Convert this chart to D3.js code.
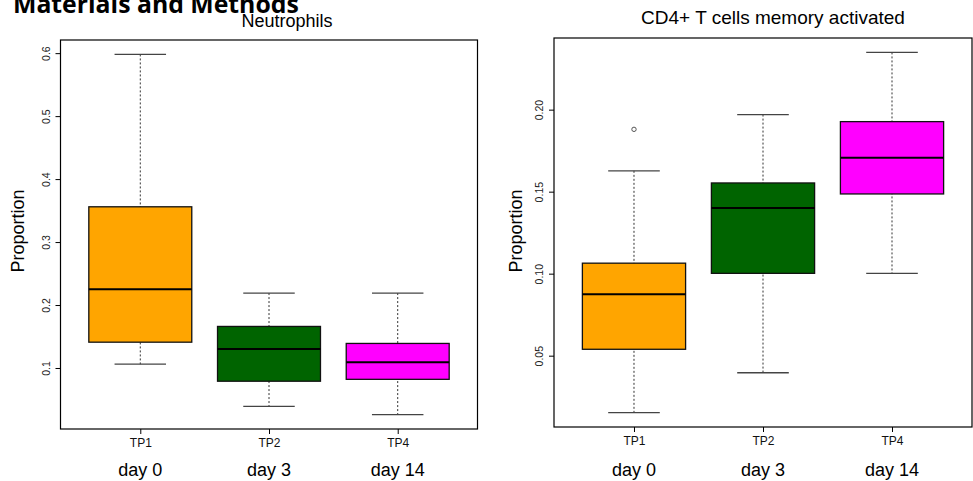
<!DOCTYPE html>
<html>
<head>
<meta charset="utf-8">
<script src="https://cdn.jsdelivr.net/npm/d3@7"></script>
<style>
  body { margin: 0; background: #fff; }
  svg { display: block; font-family: "Liberation Sans", Arial, sans-serif; }
</style>
</head>
<body>
<div id="chart"></div>
<script>
// categories and stats
var categories = ['TP1', 'TP2', 'TP4'];
var dayLabels = ['day 0', 'day 3', 'day 14'];
var boxColors = ['#FFA500', '#006400', '#FF00FF'];

// neutrophils: lower whisker, Q1, median, Q3, upper whisker
var neutLow = [0.106, 0.039, 0.026];
var neutQ1 = [0.141, 0.079, 0.082];
var neutMed = [0.225, 0.130, 0.109];
var neutQ3 = [0.356, 0.166, 0.139];
var neutHigh = [0.598, 0.219, 0.219];
var neutOutliers = [[], [], []];
var neutTicks = [0.1, 0.2, 0.3, 0.4, 0.5, 0.6];

// CD4+ T cells memory activated
var cd4Low = [0.0153, 0.0396, 0.1002];
var cd4Q1 = [0.0539, 0.1002, 0.1486];
var cd4Med = [0.0875, 0.1400, 0.1706];
var cd4Q3 = [0.1064, 0.1553, 0.1927];
var cd4High = [0.1627, 0.1970, 0.2349];
var cd4Outliers = [[0.188], [], []];
var cd4Ticks = [0.05, 0.10, 0.15, 0.20];

var svg = d3.select('#chart').append('svg')
    .attr('width', 973)
    .attr('height', 481);

svg.append('text')
    .attr('x', 13)
    .attr('y', 13)
    .attr('font-family', '"Open Sans", sans-serif')
    .attr('font-weight', 'bold')
    .attr('font-size', 24.8)
    .text('Materials and Methods');

function drawPanel(opts) {
    var f = opts.frame;
    var n = categories.length;

    var stats = categories.map(function (c, i) {
        return {
            i: i,
            low: opts.low[i], q1: opts.q1[i], med: opts.med[i],
            q3: opts.q3[i], high: opts.high[i], out: opts.out[i]
        };
    });

    // R style ranges, padded 4% each side
    var all = [].concat(opts.low, opts.high, d3.merge(opts.out));
    var lo = d3.min(all), hi = d3.max(all), r = hi - lo;
    var y = d3.scaleLinear()
        .domain([lo - 0.04 * r, hi + 0.04 * r])
        .range([f.y + f.h, f.y]);
    var xr = n;
    var x = d3.scaleLinear()
        .domain([0.5 - 0.04 * xr, n + 0.5 + 0.04 * xr])
        .range([f.x, f.x + f.w]);

    var g = svg.append('g');
    var bw = x(1.4) - x(0.6);
    var sw = bw / 2;

    var box = g.selectAll('g.box').data(stats).enter().append('g').attr('class', 'box');

    box.append('line')
        .attr('x1', function (d) { return x(d.i + 1); })
        .attr('x2', function (d) { return x(d.i + 1); })
        .attr('y1', function (d) { return y(d.high); })
        .attr('y2', function (d) { return y(d.low); })
        .attr('stroke', '#333')
        .attr('stroke-width', 1)
        .attr('stroke-dasharray', '2,2');

    ['low', 'high'].forEach(function (k) {
        box.append('line')
            .attr('x1', function (d) { return x(d.i + 1) - sw / 2; })
            .attr('x2', function (d) { return x(d.i + 1) + sw / 2; })
            .attr('y1', function (d) { return y(d[k]); })
            .attr('y2', function (d) { return y(d[k]); })
            .attr('stroke', '#444')
            .attr('stroke-width', 1.3);
    });

    box.append('rect')
        .attr('x', function (d) { return x(d.i + 1) - bw / 2; })
        .attr('y', function (d) { return y(d.q3); })
        .attr('width', bw)
        .attr('height', function (d) { return y(d.q1) - y(d.q3); })
        .attr('fill', function (d) { return boxColors[d.i]; })
        .attr('stroke', '#111')
        .attr('stroke-width', 1.3);

    box.append('line')
        .attr('x1', function (d) { return x(d.i + 1) - bw / 2; })
        .attr('x2', function (d) { return x(d.i + 1) + bw / 2; })
        .attr('y1', function (d) { return y(d.med); })
        .attr('y2', function (d) { return y(d.med); })
        .attr('stroke', '#000')
        .attr('stroke-width', 2);

    box.selectAll('circle')
        .data(function (d) { return d.out.map(function (v) { return { i: d.i, v: v }; }); })
        .enter().append('circle')
        .attr('cx', function (d) { return x(d.i + 1); })
        .attr('cy', function (d) { return y(d.v); })
        .attr('r', 2.2)
        .attr('fill', 'none')
        .attr('stroke', '#555')
        .attr('stroke-width', 1);

    g.append('rect')
        .attr('x', f.x).attr('y', f.y)
        .attr('width', f.w).attr('height', f.h)
        .attr('fill', 'none')
        .attr('stroke', '#000')
        .attr('stroke-width', 1.2);

    var yAxis = g.append('g')
        .attr('transform', 'translate(' + f.x + ',0)')
        .call(d3.axisLeft(y).tickValues(opts.ticks).tickSize(5).tickFormat(d3.format(opts.fmt)));
    yAxis.select('.domain').remove();
    yAxis.selectAll('text')
        .attr('x', null).attr('dy', null)
        .attr('transform', 'translate(-11,0) rotate(-90)')
        .attr('text-anchor', 'middle')
        .attr('font-size', 10.5)
        .attr('font-family', '"Liberation Sans", Arial, sans-serif')
        .attr('fill', '#222');

    var xAxis = g.append('g')
        .attr('transform', 'translate(0,' + (f.y + f.h) + ')')
        .call(d3.axisBottom(x).tickValues([1, 2, 3]).tickSize(5)
            .tickFormat(function (d) { return categories[d - 1]; }));
    xAxis.select('.domain').remove();
    xAxis.selectAll('text')
        .attr('y', 18).attr('dy', null)
        .attr('font-size', 12)
        .attr('font-family', '"Liberation Sans", Arial, sans-serif')
        .attr('fill', '#111');

    g.selectAll('text.day').data(dayLabels).enter().append('text')
        .attr('class', 'day')
        .attr('x', function (d, i) { return x(i + 1); })
        .attr('y', 476)
        .attr('text-anchor', 'middle')
        .attr('font-size', 18)
        .text(function (d) { return d; });

    g.append('text')
        .attr('transform', 'translate(' + opts.ylabX + ',231) rotate(-90)')
        .attr('text-anchor', 'middle')
        .attr('font-size', 18)
        .text('Proportion');

    g.append('text')
        .attr('x', opts.titleX)
        .attr('y', opts.titleY)
        .attr('text-anchor', 'middle')
        .attr('font-size', opts.titleSize)
        .text(opts.title);
}

drawPanel({
    frame: { x: 60.5, y: 40, w: 417, h: 389 },
    low: neutLow, q1: neutQ1, med: neutMed, q3: neutQ3, high: neutHigh, out: neutOutliers,
    ticks: neutTicks, fmt: '.1f',
    title: 'Neutrophils', titleX: 287, titleY: 27, titleSize: 18,
    ylabX: 24
});

drawPanel({
    frame: { x: 554, y: 38, w: 418, h: 389 },
    low: cd4Low, q1: cd4Q1, med: cd4Med, q3: cd4Q3, high: cd4High, out: cd4Outliers,
    ticks: cd4Ticks, fmt: '.2f',
    title: 'CD4+ T cells memory activated', titleX: 773, titleY: 24, titleSize: 19,
    ylabX: 522
});
</script>
</body>
</html>
